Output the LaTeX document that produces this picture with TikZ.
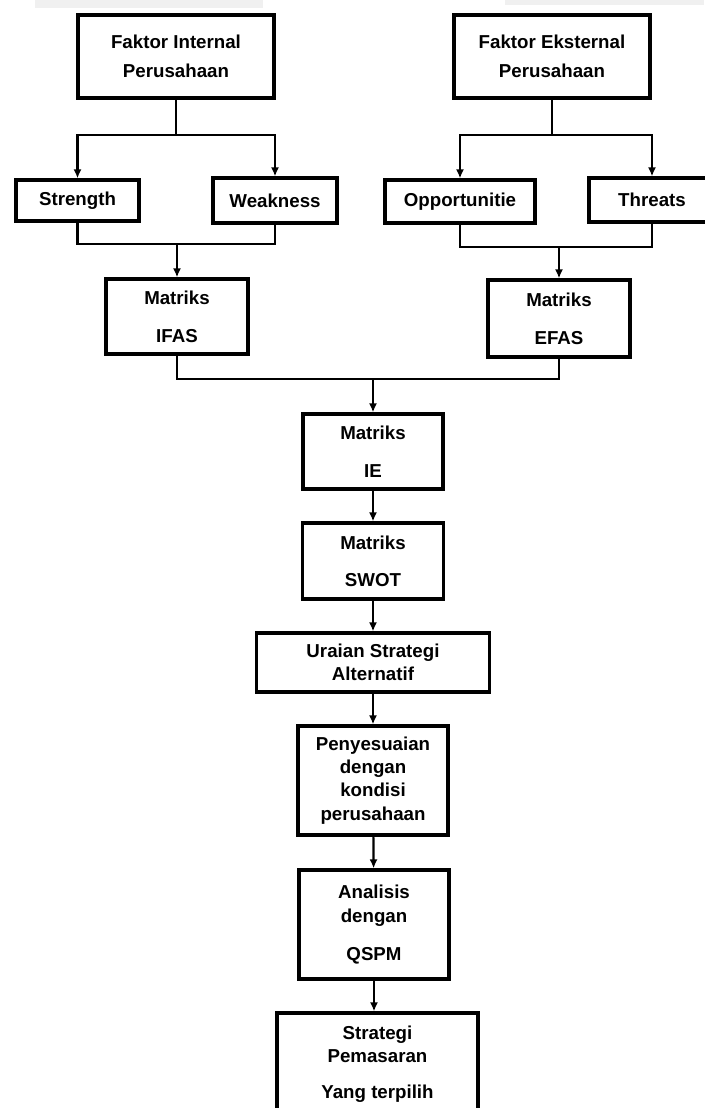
\documentclass[tikz,border=0pt]{standalone}
\usepackage{fontspec}
\setsansfont{Liberation Sans}
\usetikzlibrary{arrows.meta}

\begin{document}
\begin{tikzpicture}[x=1pt, y=-1pt]
\useasboundingbox (0,0) rectangle (704,1108);

\fill[gray!12] (35,0) rectangle (263,8);
\fill[gray!12] (505,0) rectangle (704,5);

\tikzset{BoxStyle/.style = {
 draw,
 line width = 3.2pt,
 align = center,
 inner sep = 0pt,
 text = black,
 font = \fontsize{18.7}{23.3}\selectfont\sffamily\bfseries} }

\node[BoxStyle, minimum width=196pt, minimum height=83pt] (B1) at (176, 56.5) {Faktor Internal\\[6pt]Perusahaan};
\node[BoxStyle, minimum width=196pt, minimum height=83pt] (B2) at (552, 56.5) {Faktor Eksternal\\[6pt]Perusahaan};
\node[BoxStyle, minimum width=123pt, minimum height=41pt] (B3) at (77.5, 200.5) {Strength};
\node[BoxStyle, minimum width=124pt, minimum height=45pt] (B4) at (275, 200.5) {Weakness};
\node[BoxStyle, minimum width=150pt, minimum height=43pt] (B5) at (460, 201.5) {Opportunitie};
\node[BoxStyle, minimum width=126pt, minimum height=44pt] (B6) at (652, 200) {Threats};
\node[BoxStyle, minimum width=142pt, minimum height=75pt] (B7) at (177, 316.5) {Matriks\\[14.7pt]IFAS};
\node[BoxStyle, minimum width=142pt, minimum height=77pt] (B8) at (559, 318.5) {Matriks\\[14.7pt]EFAS};
\node[BoxStyle, minimum width=140pt, minimum height=75pt] (B9) at (373, 451.5) {Matriks\\[14.7pt]IE};
\node[BoxStyle, minimum width=141pt, minimum height=76pt] (B10) at (373, 561) {Matriks\\[13.7pt]SWOT};
\node[BoxStyle, minimum width=233pt, minimum height=59pt] (B11) at (373, 662.5) {Uraian Strategi\\Alternatif};
\node[BoxStyle, minimum width=150pt, minimum height=109pt] (B12) at (373, 780.5) {Penyesuaian\\dengan\\kondisi\\perusahaan};
\node[BoxStyle, minimum width=150pt, minimum height=109pt] (B13) at (374, 924.5) {Analisis\\dengan\\[14.7pt]QSPM};
\node[BoxStyle, minimum width=201pt, minimum height=102pt] (B14) at (377.5, 1064) {Strategi\\Pemasaran\\[13pt]Yang terpilih};

\coordinate (J1) at (176, 135);
\coordinate (J2) at (177, 244);
\coordinate (J3) at (552, 135);
\coordinate (J4) at (559, 247);
\coordinate (J5) at (373, 379);

\tikzset{LineStyle/.style = {line width=2.2pt, black},
 ArrowStyle/.style = {LineStyle, -{Latex[length=9pt, width=8pt]}} }

\draw[LineStyle] (B1) -- (J1);
\draw[ArrowStyle] (J1) -| (B3);
\draw[ArrowStyle] (J1) -| (B4);
\draw[LineStyle] (B2) -- (J3);
\draw[ArrowStyle] (J3) -| (B5);
\draw[ArrowStyle] (J3) -| (B6);
\draw[LineStyle] (B3) |- (J2) -| (B4);
\draw[ArrowStyle] (J2) -- (B7);
\draw[LineStyle] (B5) |- (J4) -| (B6);
\draw[ArrowStyle] (J4) -- (B8);
\draw[LineStyle] (B7) |- (J5) -| (B8);
\draw[ArrowStyle] (J5) -- (B9);
\draw[ArrowStyle] (B9) -- (B10);
\draw[ArrowStyle] (B10) -- (B11);
\draw[ArrowStyle] (B11) -- (B12);
\draw[ArrowStyle] (B12) -- (B13);
\draw[ArrowStyle] (B13) -- (B13 |- B14.north);

\end{tikzpicture}
\end{document}
